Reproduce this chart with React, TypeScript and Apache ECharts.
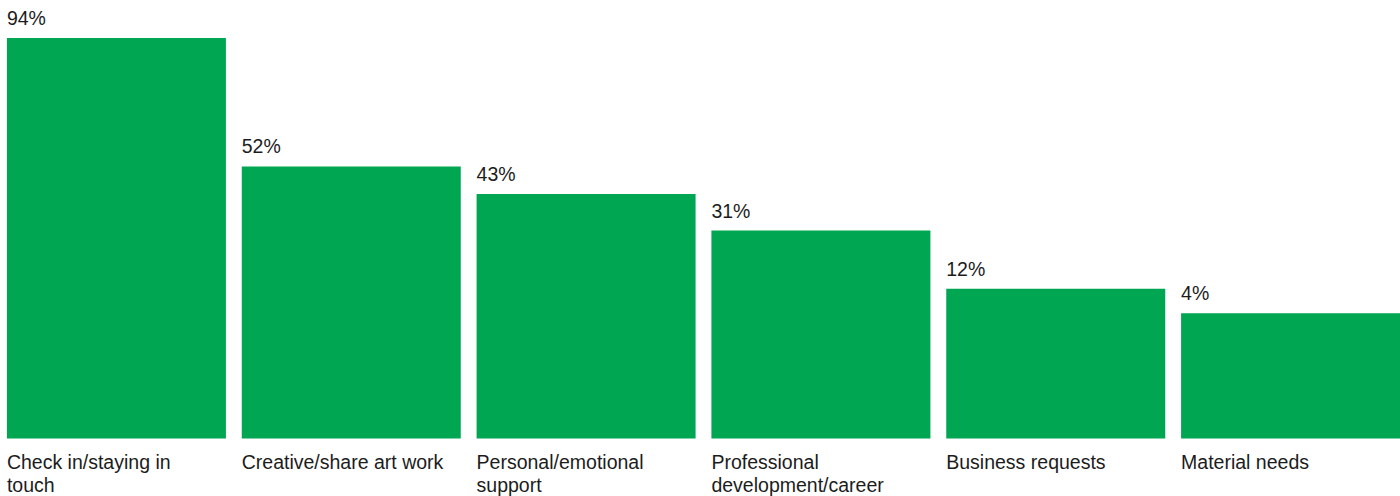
import React, { useEffect, useRef } from "react";
import * as echarts from "echarts";

const categories: string[] = [
  "Check in/staying in\ntouch",
  "Creative/share art work",
  "Personal/emotional\nsupport",
  "Professional\ndevelopment/career",
  "Business requests",
  "Material needs",
];
const shares: number[] = [94, 52, 43, 31, 12, 4];
const axisMin = -37;
const axisMax = 94;

const GREEN = "#00A651";
const TEXT = "#1c1c1c";
const FONT = "'Liberation Sans', Arial, Helvetica, sans-serif";

export default function App() {
  const ref = useRef<HTMLDivElement>(null);
  useEffect(() => {
    if (!ref.current) return;
    const chart = echarts.init(ref.current, undefined, { renderer: "svg" });
    chart.setOption({
      animation: false,
      grid: { left: 0, right: 0, top: 38, bottom: 57.5, containLabel: false, outerBoundsMode: "none" },
      xAxis: {
        type: "category",
        data: categories,
        axisLine: { show: false },
        axisTick: { show: false },
        splitLine: { show: false },
        axisLabel: {
          interval: 0,
          margin: 12,
          align: "center",
          width: 219,
          formatter: (v: string) => `{a|${v}}`,
          rich: {
            a: {
              align: "left",
              fontSize: 19.5,
              lineHeight: 23,
              fontFamily: FONT,
              color: TEXT,
            },
          },
        },
      },
      yAxis: {
        type: "value",
        min: axisMin,
        max: axisMax,
        startValue: axisMin,
        show: false,
        splitLine: { show: false },
      },
      series: [
        {
          type: "bar",
          data: shares,
          barWidth: 219,
          itemStyle: { color: GREEN },
          label: {
            show: true,
            position: [0, -10],
            align: "left",
            verticalAlign: "bottom",
            formatter: "{c}%",
            fontSize: 19.5,
            fontFamily: FONT,
            color: TEXT,
          },
        },
      ],
    });
    return () => chart.dispose();
  }, []);
  return (
    <div style={{ position: "absolute", left: 0, top: 0, width: 1400, height: 496, overflow: "hidden" }}>
      <div ref={ref} style={{ position: "absolute", left: -1, top: 0, width: 1409, height: 496 }} />
    </div>
  );
}
